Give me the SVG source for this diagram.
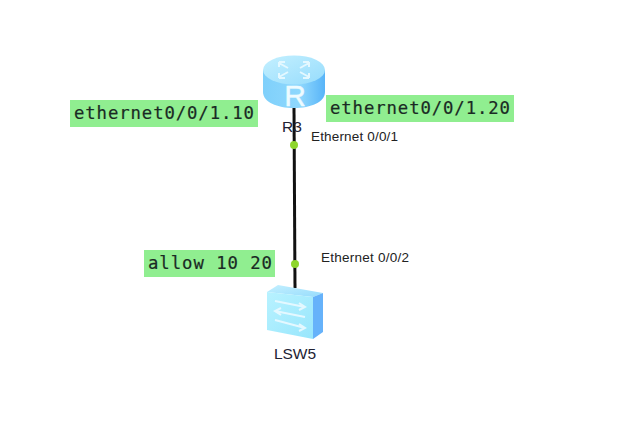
<svg xmlns="http://www.w3.org/2000/svg" width="638" height="430" viewBox="0 0 638 430">
<style>
.lb{fill:#90ee90}
.m{font-family:"DejaVu Sans Mono","Liberation Mono",monospace;font-size:17.3px;fill:#1a2a24;stroke:#1a2a24;stroke-width:.2}
.s{font-family:"Liberation Sans",Arial,sans-serif;font-size:13.5px;fill:#222}
.n{font-family:"Liberation Sans",Arial,sans-serif;font-size:15.5px;fill:#223}
.g{fill:none;stroke:#e4f8ff;stroke-width:2}
</style>
<defs>
<linearGradient id="cyl" x1="0" x2="1" y1="0" y2="0"><stop offset="0" stop-color="#7fd0fb"/><stop offset=".6" stop-color="#8fd8fd"/><stop offset="1" stop-color="#58b4f8"/></linearGradient>
<linearGradient id="top" x1="0" x2="1" y1="0" y2="1"><stop offset="0" stop-color="#c4f0ff"/><stop offset="1" stop-color="#96dcfc"/></linearGradient>
<linearGradient id="front" x1="0" x2="1" y1="0" y2="1"><stop offset="0" stop-color="#b8f2ff"/><stop offset="1" stop-color="#98e6fc"/></linearGradient>
</defs>
<rect width="638" height="430" fill="#fff"/>
<g id="connectors"><line x1="294" y1="108" x2="295" y2="288" stroke="#111" stroke-width="3"/></g>
<g id="R3">
<path d="M263 70V92C263 102 277 108 294 108S325 102 325 92V70Z" fill="url(#cyl)"/>
<ellipse cx="294" cy="70" rx="31" ry="14.5" fill="url(#top)"/>
<path class="g" d="M279 63l9 5M279 62h6M279 62v5M309 63l-9 5M309 62h-6M309 62v5M279 77l9-5M279 78h6M279 78v-5M309 77l-9-5M309 78h-6M309 78v-5"/>
<text x="295" y="106" text-anchor="middle" font-family="Liberation Sans,sans-serif" font-size="30" fill="#eefbff" stroke="#eefbff" stroke-width=".4">R</text>
<text class="n" x="292" y="132" text-anchor="middle" font-size="14">R3</text>
</g>
<g id="LSW5">
<path d="M267 292L278 285L323 293L313 297Z" fill="url(#top)"/>
<path d="M313 297L323 293V332L313 339Z" fill="#66b2fa"/>
<path d="M267 292L313 297V339L267 330Z" fill="url(#front)"/>
<path class="g" d="M275 301L305 307M299 303L305 307L299 310M305 317L275 311M281 308L275 311L281 315M275 320L305 328M299 324L305 328L299 331"/>
<text class="n" x="295" y="359" text-anchor="middle">LSW5</text>
</g>
<g id="p1"><circle cx="294" cy="145" r="4" fill="#8ed62c"/><text class="s" x="311" y="141" textLength="87">Ethernet 0/0/1</text></g>
<g id="p2"><circle cx="295" cy="264" r="4" fill="#8ed62c"/><text class="s" x="321" y="262" textLength="88">Ethernet 0/0/2</text></g>
<g id="l1"><rect class="lb" x="70" y="100" width="188" height="27"/><text class="m" x="74" y="119" textLength="180">ethernet0/0/1.10</text></g>
<g id="l2"><rect class="lb" x="326" y="95" width="188" height="27"/><text class="m" x="330" y="114" textLength="180">ethernet0/0/1.20</text></g>
<g id="l3"><rect class="lb" x="144" y="250" width="131" height="27"/><text class="m" x="148" y="269" textLength="124">allow 10 20</text></g>
</svg>
